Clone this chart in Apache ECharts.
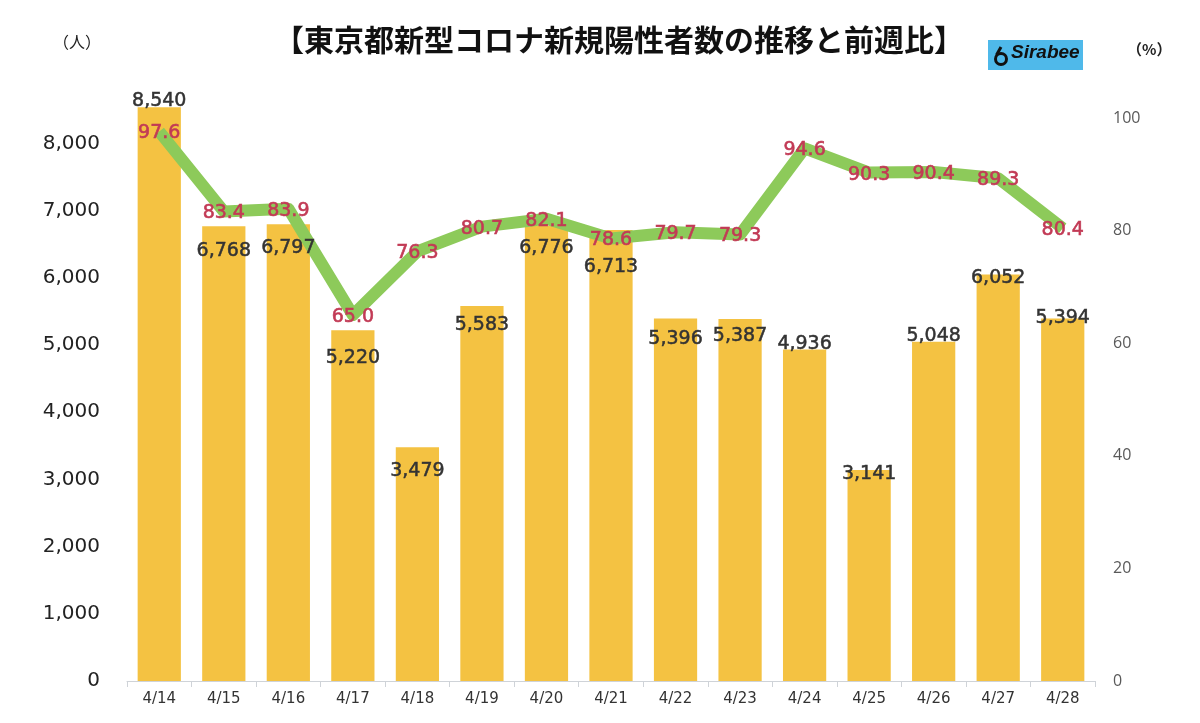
<!DOCTYPE html>
<html><head><meta charset="utf-8">
<script src="https://cdn.jsdelivr.net/npm/echarts@6/dist/echarts.min.js"></script>
<style>html,body{margin:0;padding:0;background:#fff}#c{width:1200px;height:723px}</style>
</head><body><div id="c"></div>
<script>
const categories = ['4/14','4/15','4/16','4/17','4/18','4/19','4/20','4/21','4/22','4/23','4/24','4/25','4/26','4/27','4/28'];
const positives = [8540,6768,6797,5220,3479,5583,6776,6713,5396,5387,4936,3141,5048,6052,5394];
const weekRatio = [97.6,83.4,83.9,65.0,76.3,80.7,82.1,78.6,79.7,79.3,94.6,90.3,90.4,89.3,80.4];
const leftTicks = [0,1000,2000,3000,4000,5000,6000,7000,8000];
const rightTicks = [0,20,40,60,80,100];
// label vertical offsets (style, not data)
const barLabelDy = [3,34,33,37,33,29,32,47,30,26,4,14,4,13,9];

const chart = echarts.init(document.getElementById('c'));
const font = "'DejaVu Sans', sans-serif";
chart.setOption({
  animation:false,
  backgroundColor:'#ffffff',
  title:{
    text:'【東京都新型コロナ新規陽性者数の推移と前週比】',
    left:614, top:20, textAlign:'center',
    textStyle:{fontFamily:"'Noto Sans CJK JP', sans-serif", fontSize:30, fontWeight:'bold', color:'#111'}
  },
  graphic:[
    {type:'text', left:53, top:34, style:{text:'（人）', font:"16px 'Noto Sans CJK JP'", fill:'#222'}},
    {type:'text', left:1127, top:42, style:{text:'（%）', font:"bold 15px 'Noto Sans CJK JP'", fill:'#222'}},
    {type:'rect', left:988, top:40, shape:{width:95,height:30}, style:{fill:'#4fb9ea'}},
    {type:'circle', shape:{cx:1001,cy:59,r:5.5}, style:{fill:'none', stroke:'#111', lineWidth:3}},
    {type:'line', shape:{x1:996.5,y1:55,x2:1001,y2:47}, style:{stroke:'#111', lineWidth:3}},
    {type:'text', left:1011, top:43, style:{text:'Sirabee', font:"italic bold 19px 'Liberation Sans'", fill:'#111'}}
  ],
  grid:{left:127, right:105, top:118, bottom:42},
  xAxis:{
    type:'category', data:categories, boundaryGap:true,
    axisLine:{lineStyle:{color:'#cfd3d8', width:1}},
    axisTick:{show:true, length:6, lineStyle:{color:'#cfd3d8'}},
    axisLabel:{fontFamily:font, fontSize:15, color:'#333', margin:11}
  },
  yAxis:[
    {type:'value', min:0, max:8380, interval:1000,
     axisLine:{show:false}, axisTick:{show:false}, splitLine:{show:false},
     axisLabel:{showMaxLabel:false, fontFamily:font, fontSize:20, color:'#222', margin:27,
       formatter:v=> leftTicks.includes(v) ? v.toLocaleString('en-US') : ''}},
    {type:'value', min:0, max:100, interval:20,
     axisLine:{show:false}, axisTick:{show:false}, splitLine:{show:false},
     axisLabel:{fontFamily:"'Open Sans', sans-serif", fontSize:16, color:'#595959', margin:18,
       formatter:v=> rightTicks.includes(v) ? String(v) : ''}}
  ],
  series:[
    {type:'bar', yAxisIndex:0, barWidth:'67%', clip:false,
     itemStyle:{color:'#f4c242'},
     data:positives, label:{show:false}, z:2},
    {type:'line', yAxisIndex:1, data:weekRatio, symbol:'circle', symbolSize:1, showSymbol:true,
     itemStyle:{color:'rgba(0,0,0,0)'},
     lineStyle:{color:'#8dca5a', width:12, join:'round'}, z:3,
     label:{show:true, position:'inside', offset:[0,2], fontFamily:font, fontSize:19, color:'#c23a55',
       textBorderColor:'#c23a55', textBorderWidth:0.6,
       formatter:p=>p.value.toFixed(1)}},
    {type:'bar', yAxisIndex:0, barWidth:'67%', barGap:'-100%', clip:false, silent:true,
     itemStyle:{color:'rgba(0,0,0,0)'},
     data:positives.map((v,i)=>({value:v, label:{offset:[0,barLabelDy[i]]}})),
     label:{show:true, position:'top', distance:0, fontFamily:font, fontSize:19, color:'#333',
       textBorderColor:'#333', textBorderWidth:0.5,
       formatter:p=>p.value.toLocaleString('en-US')},
     z:4}
  ]
});
</script></body></html>
